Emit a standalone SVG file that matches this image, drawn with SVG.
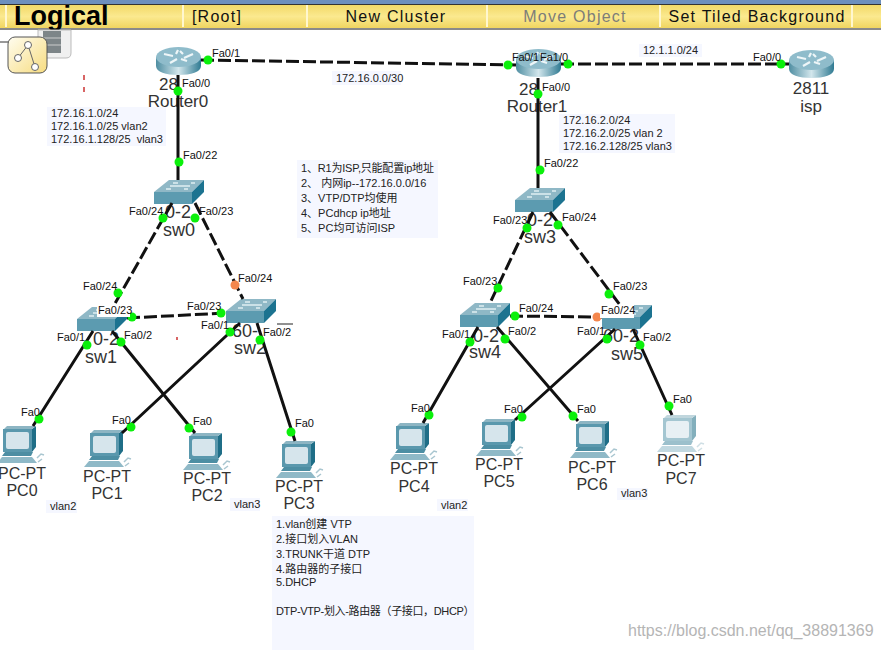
<svg xmlns="http://www.w3.org/2000/svg" width="881" height="650" viewBox="0 0 881 650">
<style>
text{font-family:"Liberation Sans","Noto Sans CJK SC",sans-serif;fill:#111}
.p{font-size:11px}
.n{font-size:16px;fill:#333}
.s{font-size:18px;fill:#333}
.r{font-size:17px;fill:#333}
.t{font-size:11px;fill:#222}
.b{fill:#f5f7ff}
.tb{font-size:16px;text-anchor:middle;letter-spacing:1.25px}
.m{text-anchor:middle}
.l{stroke:#111;stroke-width:3;fill:none}
.d{stroke-dasharray:13 4}
.g{fill:#0bf00b}
.o{fill:#f4864c}
.w{fill:#fff}
</style>
<defs>
<linearGradient id="bar" x1="0" y1="0" x2="0" y2="1"><stop offset="0" stop-color="#f2d968"/><stop offset=".5" stop-color="#fbe98f"/><stop offset="1" stop-color="#f0d560"/></linearGradient>
<linearGradient id="cyl" x1="0" y1="0" x2="1" y2="0"><stop offset="0" stop-color="#4f8ea2"/><stop offset=".5" stop-color="#d2e6ec"/><stop offset="1" stop-color="#2f7a92"/></linearGradient>
<linearGradient id="tab" x1="0" y1="0" x2="1" y2="1"><stop offset="0" stop-color="#fffdf0"/><stop offset="1" stop-color="#f7dc80"/></linearGradient>
<symbol id="router" width="45" height="29" viewBox="0 0 45 29" overflow="visible">
<path d="M0 10V19C0 25 10 28 22.500 28S45 25 45 19V10Z" fill="url(#cyl)"/>
<ellipse cx="22.500" cy="10" rx="22.500" ry="10" fill="#8fbccb"/>
<path d="M8 7l9 2M37 7l-9 4M14 16l7-4M31 14l-6-2M22 3l-2 4M24 4l3 3" stroke="#eef6f8" stroke-width="2.200" fill="none"/>
</symbol>
<symbol id="switch" width="50" height="24" viewBox="0 0 50 24" overflow="visible">
<polygon points="0,12 15,0 50,0 38,12" fill="#8fb8c6"/>
<rect x="0" y="12" width="38" height="12" fill="#5c9bb0"/>
<polygon points="38,12 50,0 50,12 38,24" fill="#1c7390"/>
<path d="M12 9h5M30 9h4M19 3h5M37 3h4M16 6h20" stroke="#dfeef2" stroke-width="1.600"/>
</symbol>
<symbol id="pc" width="47" height="37" viewBox="0 0 47 37" overflow="visible">
<polygon points="35,3 39,0 39,21 35,26" fill="#1f6e87"/>
<polygon points="7,3 10,0 39,0 35,3" fill="#8db5c3"/>
<rect x="6" y="3" width="29" height="23" fill="#5a98ad"/>
<rect x="9" y="6" width="23" height="17" rx="2" fill="#d6e5ec"/>
<polygon points="8,26 36,26 34,30 5,30" fill="#4d8ea3"/>
<polygon points="5,31 35,31 40,37 0,37" fill="#8fb9c7"/>
<path d="M40 32l4-4 3 1M41 36l4-3" stroke="#a9c6d0" stroke-width="1.500" fill="none"/>
</symbol>
</defs>
<rect width="881" height="650" fill="#fff"/>
<g id="toolbar">
<rect width="881" height="4" fill="#6d8fbd"/>
<rect y="4" width="881" height="1" fill="#333"/>
<rect y="5" width="881" height="23" fill="url(#bar)"/>
<rect y="28" width="881" height="2" fill="#8a8a8a"/>
<path d="M6 5V27M183 5V27M307 5V27M487 5V27M660 5V27M852 5V27" stroke="#fff7cf" stroke-width="2"/>
<text x="14" y="25" font-size="27" font-weight="700" style="fill:#000">Logical</text>
<text x="217" y="22" class="tb">[Root]</text>
<text x="396" y="22" class="tb">New Cluster</text>
<text x="575" y="22" class="tb" style="fill:#7d7d78">Move Object</text>
<text x="757" y="22" class="tb">Set Tiled Background</text>
<path d="M38 30H71V53Q71 58 66 58H38Z" fill="#f0f0f0" stroke="#bbb"/>
<rect x="43" y="31" width="18" height="22" fill="#7d8588"/>
<path d="M43 38H61M43 45H61" stroke="#ccc"/>
<path d="M0 42H10" stroke="#333"/>
<rect x="8" y="37" width="39" height="36" rx="7" fill="url(#tab)" stroke="#555"/>
<path d="M18 58L28 45L35 67" stroke="#666" fill="none"/>
<circle cx="18" cy="58" r="3.500" fill="#fff" stroke="#666"/><circle cx="28" cy="45" r="3.500" fill="#fff" stroke="#666"/><circle cx="35" cy="67" r="3.500" fill="#fff" stroke="#666"/>
</g>
<g id="notes">
<rect class="b" x="47" y="107" width="119" height="39"/>
<text class="t" x="51" y="117">172.16.1.0/24</text>
<text class="t" x="51" y="130">172.16.1.0/25 vlan2</text>
<text class="t" x="51" y="143" xml:space="preserve">172.16.1.128/25  vlan3</text>
<rect class="b" x="559" y="114" width="116" height="39"/>
<text class="t" x="563" y="124">172.16.2.0/24</text>
<text class="t" x="563" y="137">172.16.2.0/25 vlan 2</text>
<text class="t" x="563" y="150">172.16.2.128/25 vlan3</text>
<rect class="b" x="332" y="71" width="69" height="14"/>
<text class="t" x="336" y="82">172.16.0.0/30</text>
<rect class="b" x="639" y="44" width="63" height="13"/>
<text class="t" x="643" y="54">12.1.1.0/24</text>
<rect class="b" x="297" y="160" width="141" height="78"/>
<text class="t" x="301" y="172" letter-spacing="-.2">1、R1为ISP,只能配置ip地址</text>
<text class="t" x="301" y="187">2、 内网ip--172.16.0.0/16</text>
<text class="t" x="301" y="202">3、VTP/DTP均使用</text>
<text class="t" x="301" y="217">4、PCdhcp ip地址</text>
<text class="t" x="301" y="232">5、PC均可访问ISP</text>
<rect class="b" x="272" y="516" width="202" height="134"/>
<text class="t" x="276" y="528">1.vlan创建 VTP</text>
<text class="t" x="276" y="543">2.接口划入VLAN</text>
<text class="t" x="276" y="558">3.TRUNK干道 DTP</text>
<text class="t" x="276" y="573">4.路由器的子接口</text>
<text class="t" x="276" y="586">5.DHCP</text>
<text class="t" x="276" y="615" letter-spacing="-.35">DTP-VTP-划入-路由器（子接口，DHCP）</text>
<rect class="b" x="46" y="500" width="31" height="13"/><text class="t" x="50" y="510">vlan2</text>
<rect class="b" x="230" y="498" width="30" height="13"/><text class="t" x="234" y="508">vlan3</text>
<rect class="b" x="437" y="499" width="31" height="12"/><text class="t" x="441" y="509">vlan2</text>
<rect class="b" x="617" y="488" width="31" height="12"/><text class="t" x="621" y="497">vlan3</text>
<path d="M84 75v5M84 87v5M177 337v3" stroke="#c33" stroke-width="1.500"/>
</g>
<g id="Router0"><use href="#router" x="156" y="47"/><text class="r" x="159" y="90">28</text><text class="r m" x="178" y="107">Router0</text></g>
<g id="Router1"><use href="#router" x="516" y="49"/><text class="r" x="519" y="95">28</text><text class="r m" x="537" y="112">Router1</text></g>
<g id="isp"><use href="#router" x="789" y="50"/><text class="r m" x="811" y="94">2811</text><text class="r m" x="811" y="112">isp</text></g>
<g id="sw0"><use href="#switch" x="154" y="180"/><text class="s" x="165" y="218">0-2</text><text class="s m" x="179" y="236">sw0</text></g>
<g id="sw1"><use href="#switch" x="77" y="307"/><text class="s" x="93" y="345">0-2</text><text class="s m" x="101" y="363">sw1</text></g>
<g id="sw2"><use href="#switch" x="226" y="299"/><text class="s" x="232" y="337">60-</text><text class="s m" x="250" y="354">sw2</text></g>
<g id="sw3"><use href="#switch" x="515" y="188"/><text class="s" x="527" y="226">0-2</text><text class="s m" x="540" y="243">sw3</text></g>
<g id="sw4"><use href="#switch" x="460" y="303"/><text class="s" x="473" y="342">0-2</text><text class="s m" x="485" y="358">sw4</text></g>
<g id="sw5"><use href="#switch" x="602" y="305"/><text class="s" x="603" y="342">60-2</text><text class="s m" x="627" y="360">sw5</text></g>
<g id="PC0"><use href="#pc" x="-3" y="426"/><text class="n m" x="22" y="479">PC-PT</text><text class="n m" x="22" y="496">PC0</text></g>
<g id="PC1"><use href="#pc" x="84" y="430"/><text class="n m" x="107" y="482">PC-PT</text><text class="n m" x="107" y="499">PC1</text></g>
<g id="PC2"><use href="#pc" x="183" y="433"/><text class="n m" x="207" y="484">PC-PT</text><text class="n m" x="207" y="501">PC2</text></g>
<g id="PC3"><use href="#pc" x="276" y="441"/><text class="n m" x="299" y="492">PC-PT</text><text class="n m" x="299" y="509">PC3</text></g>
<g id="PC4"><use href="#pc" x="390" y="423"/><text class="n m" x="414" y="474">PC-PT</text><text class="n m" x="414" y="492">PC4</text></g>
<g id="PC5"><use href="#pc" x="476" y="419"/><text class="n m" x="499" y="470">PC-PT</text><text class="n m" x="499" y="487">PC5</text></g>
<g id="PC6"><use href="#pc" x="570" y="421"/><text class="n m" x="592" y="473">PC-PT</text><text class="n m" x="592" y="490">PC6</text></g>
<g id="PC7"><use href="#pc" x="657" y="415" opacity=".55"/><text class="n m" x="681" y="466">PC-PT</text><text class="n m" x="681" y="484">PC7</text></g>
<g id="connectors">
<path class="l d" d="M201 60L516 65"/>
<path class="l d" d="M561 64H789"/>
<path class="l" d="M178 75V180M538 78V188"/>
<path class="l d" d="M172 203L113 307M195 203L243 299M127 318L226 313"/>
<path class="l d" d="M533 212L490 303M550 212L620 305M510 316L602 317"/>
<path class="l" d="M93 331L33 426M112 331L195 433M240 323L122 433M257 323L295 441"/>
<path class="l" d="M478 327L423 423M497 327L578 421M615 329L515 420M633 329L672 415"/>
<g class="g">
<circle cx="208" cy="60" r="4.500"/><circle cx="508" cy="65" r="4.500"/><circle cx="568" cy="64" r="4.500"/><circle cx="781" cy="64" r="4.500"/>
<circle cx="178" cy="91" r="4.500"/><circle cx="179" cy="162" r="4.500"/><circle cx="538" cy="94" r="4.500"/><circle cx="540" cy="170" r="4.500"/>
<circle cx="163" cy="218" r="4.500"/><circle cx="195" cy="218" r="4.500"/><circle cx="118" cy="293" r="4.500"/>
<circle cx="132" cy="317" r="4.500"/><circle cx="221" cy="313" r="4.500"/>
<circle cx="87" cy="345" r="4.500"/><circle cx="121" cy="342" r="4.500"/><circle cx="230" cy="332" r="4.500"/><circle cx="260" cy="340" r="4.500"/>
<circle cx="39" cy="419" r="4.500"/><circle cx="131" cy="427" r="4.500"/><circle cx="189" cy="428" r="4.500"/><circle cx="291" cy="432" r="4.500"/>
<circle cx="527" cy="228" r="4.500"/><circle cx="558" cy="225" r="4.500"/><circle cx="498" cy="288" r="4.500"/><circle cx="609" cy="294" r="4.500"/><circle cx="515" cy="316" r="4.500"/>
<circle cx="470" cy="342" r="4.500"/><circle cx="505" cy="339" r="4.500"/><circle cx="607" cy="339" r="4.500"/><circle cx="640" cy="345" r="4.500"/>
<circle cx="429" cy="415" r="4.500"/><circle cx="522" cy="417" r="4.500"/><circle cx="573" cy="416" r="4.500"/><circle cx="669" cy="406" r="4.500"/>
</g>
<circle class="o" cx="235" cy="285" r="4.500"/><circle class="o" cx="597" cy="317" r="4.500"/>
<rect class="w" x="97" y="305" width="33" height="12"/>
<rect class="w" x="200" y="319" width="26" height="11"/>
<rect class="w" x="600" y="305" width="34" height="13"/>
<path d="M277 324H293" stroke="#222"/>
<g class="p">
<text class="p" x="212" y="57">Fa0/1</text><text class="p" x="182" y="87">Fa0/0</text><text class="p" x="183" y="159">Fa0/22</text>
<text class="p" x="512" y="61" textLength="27">Fa0/1</text><text class="p" x="540" y="61">Fa1/0</text><text class="p" x="542" y="91">Fa0/0</text><text class="p" x="753" y="61">Fa0/0</text><text class="p" x="544" y="167">Fa0/22</text>
<text class="p" x="129" y="215">Fa0/24</text><text class="p" x="199" y="215">Fa0/23</text><text class="p" x="83" y="290">Fa0/24</text><text class="p" x="238" y="282">Fa0/24</text>
<text class="p" x="98" y="314">Fa0/23</text><text class="p" x="187" y="310">Fa0/23</text><text class="p" x="57" y="341">Fa0/1</text><text class="p" x="124" y="339">Fa0/2</text><text class="p" x="201" y="329">Fa0/1</text><text class="p" x="263" y="336">Fa0/2</text>
<text class="p" x="493" y="224">Fa0/23</text><text class="p" x="562" y="221">Fa0/24</text><text class="p" x="463" y="285">Fa0/23</text><text class="p" x="613" y="290">Fa0/23</text>
<text class="p" x="519" y="312">Fa0/24</text><text class="p" x="601" y="314">Fa0/24</text><text class="p" x="442" y="338">Fa0/1</text><text class="p" x="508" y="335">Fa0/2</text><text class="p" x="577" y="335">Fa0/1</text><text class="p" x="643" y="341">Fa0/2</text>
<text class="p" x="21" y="416">Fa0</text><text class="p" x="112" y="424">Fa0</text><text class="p" x="193" y="425">Fa0</text><text class="p" x="295" y="427">Fa0</text>
<text class="p" x="411" y="412">Fa0</text><text class="p" x="504" y="413">Fa0</text><text class="p" x="577" y="413">Fa0</text><text class="p" x="673" y="403">Fa0</text>
</g>
</g>
<text x="628" y="636" font-size="16" style="fill:#b5b5b5">https://blog.csdn.net/qq_38891369</text>
</svg>
